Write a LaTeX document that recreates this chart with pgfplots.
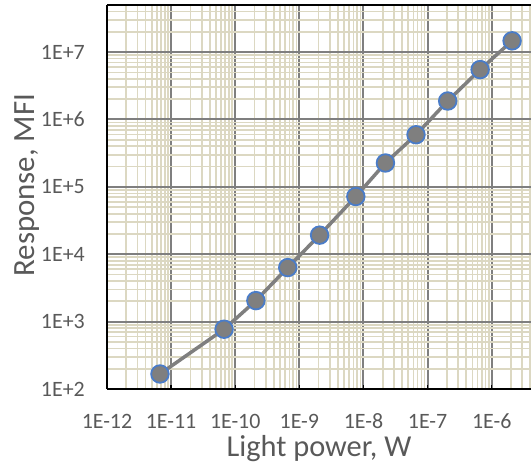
\documentclass[border=0pt]{standalone}
\usepackage{pgfplots}
\pgfplotsset{compat=1.18}
\usepackage{fontspec}
\setmainfont{Carlito}
\definecolor{txt}{HTML}{595959}
\definecolor{minorg}{HTML}{DCD8C2}
\definecolor{majorg}{HTML}{7F7F7F}
\definecolor{ser}{HTML}{7F7F7F}
\definecolor{mk}{HTML}{4A7CC8}
\begin{document}
\begin{tikzpicture}
\begin{axis}[
  scale only axis, width=424bp, height=384bp,
  xmode=log, ymode=log,
  xmin=1e-12, xmax=4.1e-6, ymin=100, ymax=5e7,
  axis x line=box, axis y line=left,
  axis line style={-, black, line width=1.3bp},
  xtick={1e-12,1e-11,1e-10,1e-9,1e-8,1e-7,1e-6},
  xticklabels={1E-12,1E-11,1E-10,1E-9,1E-8,1E-7,1E-6},
  ytick={1e2,1e3,1e4,1e5,1e6,1e7},
  yticklabels={1E+2,1E+3,1E+4,1E+5,1E+6,1E+7},
  minor xtick={2e-12,3e-12,4e-12,5e-12,6e-12,7e-12,8e-12,9e-12,
    2e-11,3e-11,4e-11,5e-11,6e-11,7e-11,8e-11,9e-11,
    2e-10,3e-10,4e-10,5e-10,6e-10,7e-10,8e-10,9e-10,
    2e-9,3e-9,4e-9,5e-9,6e-9,7e-9,8e-9,9e-9,
    2e-8,3e-8,4e-8,5e-8,6e-8,7e-8,8e-8,9e-8,
    2e-7,3e-7,4e-7,5e-7,6e-7,7e-7,8e-7,9e-7,
    2e-6,3e-6,4e-6},
  minor ytick={2e2,3e2,4e2,5e2,6e2,7e2,8e2,9e2,
    2e3,3e3,4e3,5e3,6e3,7e3,8e3,9e3,
    2e4,3e4,4e4,5e4,6e4,7e4,8e4,9e4,
    2e5,3e5,4e5,5e5,6e5,7e5,8e5,9e5,
    2e6,3e6,4e6,5e6,6e6,7e6,8e6,9e6,
    2e7,3e7,4e7},
  grid=both,
  major grid style={majorg, line width=2bp},
  minor grid style={minorg, line width=1.7bp},
  xtick pos=left,
  xtick style={black, line width=1.3bp},
  ytick style={draw=none},
  major tick length=4bp, minor tick length=0pt,
  tick align=inside,
  xticklabel style={font=\fontsize{22}{24}\selectfont, text=txt, anchor=base, yshift=-39bp, inner sep=0pt},
  yticklabel style={font=\fontsize{22}{24}\selectfont, text=txt, anchor=east, xshift=-22bp, inner sep=0pt},
  xlabel={Light power, W},
  ylabel={Response, MFI},
  xlabel style={font=\fontsize{30.5}{32}\selectfont, text=txt, at={(axis description cs:0.5,-0.177)}, anchor=base, inner sep=0pt},
  ylabel style={font=\fontsize{31}{33}\selectfont, text=txt, at={(axis description cs:-0.170,0.531)}, anchor=base, rotate=0, inner sep=0pt},
]
\addplot[color=ser, line width=3.5bp, mark=*, mark size=8.8bp,
  mark options={fill=ser, draw=mk, line width=1.8bp}]
  coordinates {
  (6.7e-12,167) (6.7e-11,771) (2.1e-10,2050) (6.6e-10,6340)
  (2.07e-9,19200) (7.6e-9,71900) (2.2e-8,226000) (6.6e-8,594000)
  (2.06e-7,1.88e6) (6.6e-7,5.5e6) (2.08e-6,1.47e7)
  };
\end{axis}
\pgfresetboundingbox
\path[use as bounding box] ([xshift=-107bp,yshift=-79bp]current axis.south west) rectangle ([yshift=5bp]current axis.north east);
\end{tikzpicture}
\end{document}
